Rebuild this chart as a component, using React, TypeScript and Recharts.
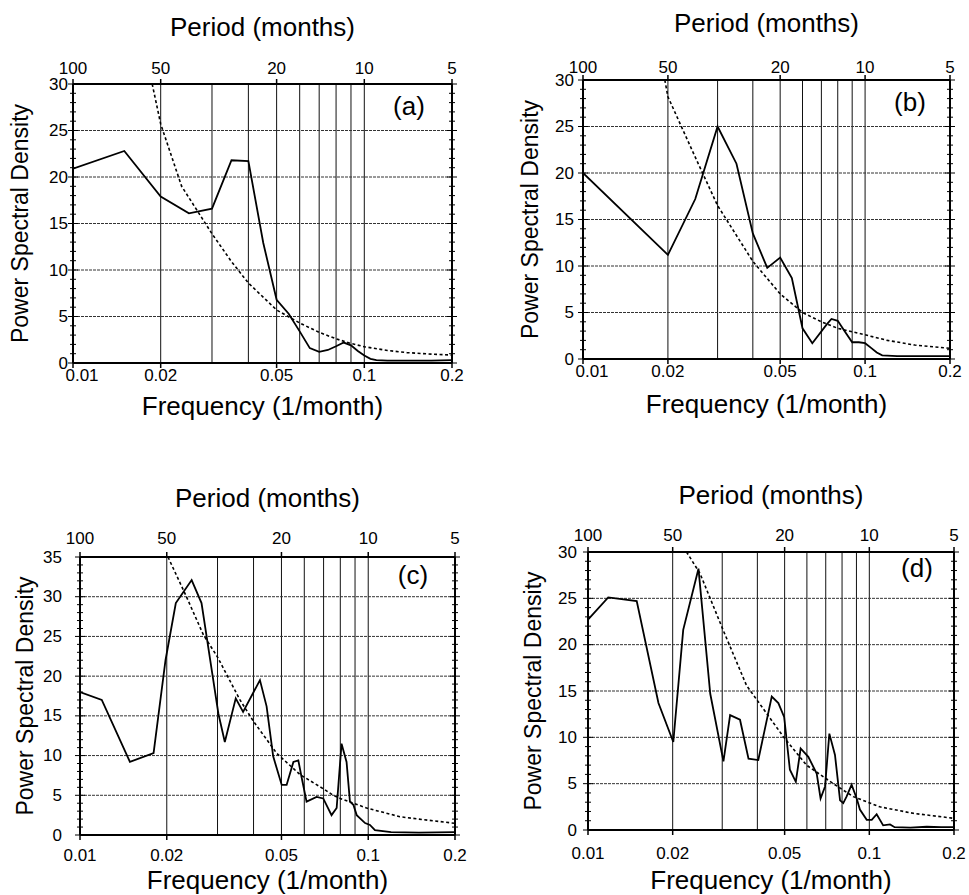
import { LineChart, Line, XAxis, YAxis, ReferenceLine, Label } from "recharts";

const FONT = '"Liberation Sans", Arial, Helvetica, sans-serif';

// frequency ticks (1/month); the top axis shows them as periods
const freqTicks = [0.01, 0.02, 0.05, 0.1, 0.2];
const gridFreqs = [0.02, 0.03, 0.04, 0.05, 0.06, 0.07, 0.08, 0.09, 0.1];
const yMajor30 = [0, 5, 10, 15, 20, 25, 30];
const yMajor35 = [0, 5, 10, 15, 20, 25, 30, 35];

// (a)
const freqA = [0.01, 0.015, 0.02, 0.025, 0.03, 0.035, 0.04, 0.045, 0.05, 0.055, 0.06, 0.065, 0.07, 0.075, 0.08, 0.085, 0.09, 0.095, 0.1, 0.105, 0.11, 0.12, 0.14, 0.17, 0.2];
const psdA = [20.9, 22.8, 17.9, 16.1, 16.6, 21.8, 21.7, 12.9, 6.8, 5.3, 3.4, 1.6, 1.2, 1.4, 1.8, 2.2, 1.9, 1.3, 0.8, 0.45, 0.3, 0.25, 0.25, 0.25, 0.3];
const fitFreqA = [0.0187, 0.02, 0.0236, 0.03, 0.035, 0.04, 0.05, 0.06, 0.07, 0.08, 0.09, 0.1, 0.12, 0.14, 0.17, 0.2];
const fitA = [30, 25.7, 19.0, 13.9, 10.9, 8.6, 5.7, 4.3, 3.3, 2.6, 2.1, 1.75, 1.35, 1.12, 0.95, 0.85];

// (b)
const freqB = [0.01, 0.02, 0.025, 0.03, 0.035, 0.04, 0.045, 0.05, 0.055, 0.06, 0.065, 0.073, 0.076, 0.08, 0.085, 0.09, 0.095, 0.1, 0.105, 0.11, 0.115, 0.13, 0.16, 0.2];
const psdB = [20, 11.2, 17.2, 25.0, 21.0, 13.5, 9.8, 10.9, 8.7, 3.3, 1.7, 3.7, 4.3, 4.1, 2.9, 1.8, 1.8, 1.7, 1.2, 0.7, 0.4, 0.3, 0.3, 0.3];
const fitFreqB = [0.0195, 0.02, 0.025, 0.03, 0.04, 0.05, 0.06, 0.07, 0.08, 0.1, 0.12, 0.15, 0.2];
const fitB = [30, 28.2, 21.7, 16.5, 10.5, 7.0, 5.0, 4.0, 3.3, 2.6, 2.0, 1.5, 1.15];

// (c)
const freqC = [0.01, 0.0119, 0.0149, 0.018, 0.0198, 0.0215, 0.0244, 0.0264, 0.029, 0.0302, 0.0318, 0.0347, 0.0368, 0.0421, 0.0444, 0.0468, 0.0501, 0.0521, 0.055, 0.0572, 0.0587, 0.0611, 0.0662, 0.0698, 0.0746, 0.0777, 0.0808, 0.0841, 0.0864, 0.0888, 0.0912, 0.0975, 0.1014, 0.1055, 0.12, 0.15, 0.2];
const psdC = [18.0, 17.0, 9.2, 10.3, 22.0, 29.2, 32.1, 29.2, 19.5, 15.3, 11.7, 17.2, 15.5, 19.5, 16.2, 9.9, 6.3, 6.3, 9.2, 9.4, 7.3, 4.2, 4.8, 4.6, 2.5, 3.4, 11.5, 9.2, 4.2, 3.8, 2.5, 1.5, 1.26, 0.6, 0.35, 0.3, 0.35];
const fitFreqC = [0.0202, 0.0234, 0.0268, 0.03, 0.0359, 0.04, 0.0481, 0.058, 0.07, 0.0756, 0.08, 0.0987, 0.1288, 0.15, 0.2];
const fitC = [35, 30, 25.2, 22.4, 17, 14.3, 10.3, 7.6, 5.8, 5.0, 4.6, 3.4, 2.3, 2.0, 1.47];

// (d)
const freqD = [0.01, 0.0118, 0.0149, 0.0178, 0.0201, 0.0218, 0.0247, 0.0272, 0.0303, 0.032, 0.0347, 0.0372, 0.0403, 0.045, 0.0475, 0.0498, 0.0522, 0.0548, 0.057, 0.0607, 0.065, 0.0671, 0.0696, 0.0721, 0.0755, 0.0787, 0.0808, 0.083, 0.0865, 0.0902, 0.0926, 0.0979, 0.102, 0.1062, 0.112, 0.1185, 0.123, 0.14, 0.16, 0.18, 0.2];
const psdD = [22.7, 25.1, 24.7, 13.7, 9.5, 21.6, 28.2, 14.7, 7.4, 12.4, 11.9, 7.7, 7.55, 14.4, 13.7, 12.2, 6.5, 5.2, 8.8, 7.9, 6.1, 3.4, 4.7, 10.4, 8.1, 3.2, 2.9, 3.6, 4.9, 3.4, 2.2, 1.1, 1.1, 1.7, 0.5, 0.6, 0.3, 0.25, 0.35, 0.3, 0.3];
const fitFreqD = [0.0224, 0.025, 0.0302, 0.0366, 0.0431, 0.0494, 0.0598, 0.0745, 0.0877, 0.109, 0.1432, 0.2];
const fitD = [30, 27.7, 21.6, 15.6, 12.6, 10.1, 7.0, 5.0, 3.6, 2.5, 1.8, 1.26];

const zip = (f: number[], v: number[]) => f.map((x, i) => ({ f: x, v: v[i] }));

interface PanelProps {
  tag: string;
  left: number;
  top: number;
  width: number;
  height: number;
  pl: number;
  pt: number;
  pr: number;
  pb: number;
  yMax: number;
  yMajor: number[];
  spectrum: { f: number; v: number }[];
  fit: { f: number; v: number }[];
  titleY: number;
  xLabelY: number;
  yLabelX: number;
  topGap: number;
  bottomGap: number;
  firstShift: number;
  yGap: number;
  tagDx: number;
  tagDy: number;
}

const axisLine = { stroke: "#000", strokeWidth: 2 };

const Panel = (p: PanelProps) => {
  const cx = (p.pl + p.pr) / 2;
  const cy = (p.pt + p.pb) / 2;
  const minor = Array.from({ length: p.yMax + 1 }, (_, i) => i);
  return (
    <div style={{ position: "absolute", left: p.left, top: p.top }}>
      <LineChart width={p.width} height={p.height} margin={{ top: 0, right: 0, bottom: 0, left: 0 }} style={{ fontFamily: FONT }}>
        <XAxis
          xAxisId="bottom"
          dataKey="f"
          type="number"
          scale="log"
          domain={[0.01, 0.2]}
          allowDataOverflow
          ticks={freqTicks}
          interval={0}
          height={p.height - p.pb}
          tickSize={0}
          tickMargin={0}
          tickLine={false}
          axisLine={axisLine}
          tick={(t: any) => (
            <g>
              <line x1={t.x} x2={t.x} y1={t.y} y2={t.y + 5} stroke="#000" strokeWidth={1.5} />
              <text
                x={t.x + (t.payload.value === 0.01 ? p.firstShift : 0)}
                y={t.y + p.bottomGap}
                textAnchor="middle"
                dominantBaseline="central"
                fontSize={17}
                fill="#000"
              >
                {String(t.payload.value)}
              </text>
            </g>
          )}
        >
          <Label
            content={() => (
              <text x={cx} y={p.xLabelY} textAnchor="middle" dominantBaseline="central" fontSize={26} fill="#000">
                Frequency (1/month)
              </text>
            )}
          />
        </XAxis>
        <XAxis
          xAxisId="top"
          orientation="top"
          dataKey="f"
          type="number"
          scale="log"
          domain={[0.01, 0.2]}
          allowDataOverflow
          ticks={freqTicks}
          interval={0}
          height={p.pt}
          tickSize={0}
          tickMargin={0}
          tickLine={false}
          axisLine={axisLine}
          tick={(t: any) => (
            <g>
              <line x1={t.x} x2={t.x} y1={t.y} y2={t.y - 5} stroke="#000" strokeWidth={1.5} />
              <text x={t.x} y={t.y - p.topGap} textAnchor="middle" dominantBaseline="central" fontSize={17} fill="#000">
                {String(Math.round(1 / t.payload.value))}
              </text>
            </g>
          )}
        >
          <Label
            content={() => (
              <g>
                <text x={cx} y={p.titleY} textAnchor="middle" dominantBaseline="central" fontSize={26} fill="#000">
                  Period (months)
                </text>
                <text x={p.pr - p.tagDx} y={p.pt + p.tagDy} textAnchor="middle" dominantBaseline="central" fontSize={26} fill="#000">
                  {p.tag}
                </text>
              </g>
            )}
          />
        </XAxis>
        <YAxis
          yAxisId="left"
          type="number"
          domain={[0, p.yMax]}
          allowDataOverflow
          ticks={minor}
          interval={0}
          width={p.pl}
          tickSize={0}
          tickMargin={0}
          tickLine={false}
          axisLine={axisLine}
          tick={(t: any) => {
            const v = t.payload.value;
            const major = p.yMajor.includes(v);
            return (
              <g>
                <line x1={t.x - (major ? 5 : 3)} x2={t.x + (major ? 5 : 3)} y1={t.y} y2={t.y} stroke="#000" strokeWidth={1} />
                {major && (
                  <text x={t.x - p.yGap} y={t.y} textAnchor="end" dominantBaseline="central" fontSize={17} fill="#000">
                    {v}
                  </text>
                )}
              </g>
            );
          }}
        >
          <Label
            content={() => (
              <text
                x={p.yLabelX}
                y={cy}
                transform={`rotate(-90, ${p.yLabelX}, ${cy})`}
                textAnchor="middle"
                dominantBaseline="central"
                fontSize={23}
                fill="#000"
              >
                Power Spectral Density
              </text>
            )}
          />
        </YAxis>
        <YAxis
          yAxisId="right"
          orientation="right"
          type="number"
          domain={[0, p.yMax]}
          allowDataOverflow
          ticks={minor}
          interval={0}
          width={p.width - p.pr}
          tickSize={0}
          tickMargin={0}
          tickLine={false}
          axisLine={axisLine}
          tick={(t: any) => {
            const major = p.yMajor.includes(t.payload.value);
            return <line x1={t.x - (major ? 5 : 3)} x2={t.x + (major ? 5 : 3)} y1={t.y} y2={t.y} stroke="#000" strokeWidth={1} />;
          }}
        />
        {gridFreqs.map((f) => (
          <ReferenceLine key={"vx" + f} xAxisId="bottom" yAxisId="left" x={f} stroke="#111" strokeWidth={1} />
        ))}
        {p.yMajor
          .filter((v) => v > 0 && v < p.yMax)
          .map((v) => (
            <ReferenceLine key={"hy" + v} xAxisId="bottom" yAxisId="left" y={v} stroke="#333" strokeWidth={1} strokeDasharray="3 1" />
          ))}
        <Line
          xAxisId="bottom"
          yAxisId="left"
          data={p.fit}
          dataKey="v"
          type="linear"
          stroke="#000"
          strokeWidth={1.6}
          strokeDasharray="3 2.5"
          dot={false}
          isAnimationActive={false}
        />
        <Line
          xAxisId="bottom"
          yAxisId="left"
          data={p.spectrum}
          dataKey="v"
          type="linear"
          stroke="#000"
          strokeWidth={1.8}
          dot={false}
          isAnimationActive={false}
        />
      </LineChart>
    </div>
  );
}

export default function App() {
  return (
    <div style={{ position: "absolute", left: 0, top: 0, width: 969, height: 895, background: "#fff", fontFamily: FONT }}>
      <Panel tag="(a)" left={0} top={0} width={480} height={440} pl={73} pt={84} pr={452} pb={363} yMax={30} yMajor={yMajor30}
        spectrum={zip(freqA, psdA)} fit={zip(fitFreqA, fitA)} titleY={27} xLabelY={406} yLabelX={20}
        topGap={16} bottomGap={12} firstShift={9} yGap={5} tagDx={43} tagDy={22} />
      <Panel tag="(b)" left={480} top={0} width={489} height={440} pl={103} pt={80} pr={470} pb={359} yMax={30} yMajor={yMajor30}
        spectrum={zip(freqB, psdB)} fit={zip(fitFreqB, fitB)} titleY={23} xLabelY={404} yLabelX={50}
        topGap={13} bottomGap={12} firstShift={9} yGap={9} tagDx={40} tagDy={22} />
      <Panel tag="(c)" left={0} top={440} width={480} height={455} pl={80} pt={117} pr={455} pb={395} yMax={35} yMajor={yMajor35}
        spectrum={zip(freqC, psdC)} fit={zip(fitFreqC, fitC)} titleY={58} xLabelY={440} yLabelX={25}
        topGap={19} bottomGap={20} firstShift={0} yGap={18} tagDx={42} tagDy={18} />
      <Panel tag="(d)" left={480} top={440} width={489} height={455} pl={108} pt={112} pr={474} pb={390} yMax={30} yMajor={yMajor30}
        spectrum={zip(freqD, psdD)} fit={zip(fitFreqD, fitD)} titleY={55} xLabelY={440} yLabelX={53}
        topGap={17} bottomGap={23} firstShift={0} yGap={11} tagDx={37} tagDy={16} />
    </div>
  );
}
